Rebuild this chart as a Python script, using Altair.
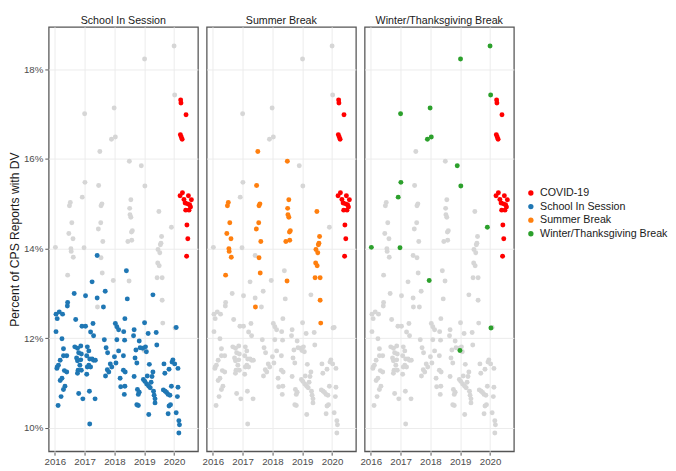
import altair as alt
import pandas as pd

# ---- data (x = fractional year, y = percent) ----
school_x = [2016.04,2016.04,2016.08,2016.11,2016.08,2016.15,2016.26,2016.24,2016.43,2016.42,2016.29,2016.29,2016.40,2016.18,2016.12,2016.07,2016.32,2016.40,2016.24,2016.18,2016.34,2016.29,2016.21,
            2016.65,2016.70,2016.91,2016.67,2016.76,2016.87,2016.80,2016.89,2016.73,2016.76,2016.87,2016.84,2016.78,2016.76,2016.89,2016.80,2016.94,
            2017.03,2017.03,2017.09,2017.14,2017.07,2017.17,2017.14,2017.09,2017.28,2017.20,2017.30,2017.25,2017.30,2017.36,2017.20,2017.07,2017.16,2017.17,2017.35,2017.25,2017.42,2017.42,
            2017.69,2017.63,2017.66,2017.72,2017.77,2017.86,2017.91,2017.76,2017.81,2017.70,
            2018.03,2018.08,2018.14,2018.35,2018.31,2018.08,2018.34,2018.14,2018.30,2018.19,2018.21,2018.35,2018.33,2018.30,2018.36,2018.43,2018.40,2018.00,2018.05,
            2018.66,2018.64,2018.83,2018.72,2018.86,2018.69,2018.75,2018.66,2018.77,2018.83,2018.80,2018.75,2018.80,
            2019.04,2019.01,2019.13,2019.40,2019.42,2018.95,2019.07,2019.17,2019.29,2019.26,2018.97,2019.02,2019.08,2019.15,2019.20,2019.10,2019.23,2019.31,2019.33,2019.36,2019.36,2019.15,2019.29,
            2019.66,2019.83,2019.69,2019.64,2019.70,2019.75,2019.80,2019.86,2019.96,2019.93,2020.02,2019.91,2019.83,2019.88,2019.80,
            2020.07,2020.13,2020.11,2020.07,2020.16,2020.18,2020.16,2020.13]
school_y = [12.54,12.15,11.36,10.50,12.44,12.59,12.54,11.99,12.80,12.72,11.77,11.61,11.61,11.51,11.40,11.33,11.28,11.25,11.11,11.06,10.93,10.86,10.70,
            13.00,12.42,12.27,11.81,11.78,11.83,11.68,11.65,11.56,11.50,11.52,11.40,11.29,11.22,11.29,10.77,10.65,
            12.27,12.95,11.81,11.72,11.61,11.54,11.40,11.36,12.33,12.14,12.06,11.54,11.51,11.51,11.36,11.20,10.82,10.09,10.65,13.26,12.90,13.85,
            13.05,12.70,11.97,11.79,11.68,11.43,11.36,11.30,11.25,11.16,
            12.33,12.26,12.19,12.44,12.15,11.97,11.96,11.72,11.61,11.11,10.92,10.93,10.75,11.29,11.25,12.88,13.51,11.59,11.45,
            12.19,12.06,11.94,11.74,11.79,11.56,11.45,11.15,10.86,10.80,10.75,10.52,10.50,
            11.81,12.35,12.11,12.13,11.85,11.78,11.70,11.42,11.25,11.15,11.08,11.04,10.98,10.93,10.90,11.16,11.02,10.82,10.73,10.65,10.56,10.30,12.97,
            11.43,11.31,11.22,10.85,10.82,10.79,10.75,10.73,11.52,11.47,11.43,10.93,10.49,10.52,10.32,
            12.24,10.91,10.70,10.34,10.16,10.07,9.89,11.33]

summer_x = [2016.43,2016.47,2016.49,2016.52,2016.54,2016.55,2016.57,2016.61,2016.62,
            2017.43,2017.46,2017.47,2017.51,2017.54,2017.55,2017.55,2017.58,2017.59,2017.61,
            2018.49,2018.50,2018.51,2018.55,2018.52,2018.55,2018.60,2018.57,2018.45,2018.58,
            2019.49,2019.58,2019.56,2019.54,2019.46,2019.52,2019.45,2019.50,2019.43,2019.60,2019.60,2019.62]
summer_y = [13.41,14.34,14.96,15.03,14.00,13.94,14.58,14.22,13.81,
            12.70,14.44,15.41,16.17,14.58,14.96,13.80,15.00,13.46,14.16,
            13.28,15.95,14.90,15.09,14.76,14.70,14.40,14.37,14.16,14.19,
            14.83,14.27,14.12,14.09,13.98,13.91,13.68,13.62,13.35,13.35,12.85,12.34]

winter_x = [2016.02,2016.92,2016.98,2017.00,2017.01,2017.90,2017.96,2017.99,2018.03,2018.90,2018.99,2019.01,2019.02,2019.91,2020.00,2020.02,2020.03]
winter_y = [14.03,15.15,14.02,17.01,15.48,16.44,13.29,17.14,16.49,15.85,11.73,18.23,15.40,14.48,18.52,17.43,12.23]

covid_x = [2020.22,2020.23,2020.40,2020.21,2020.24,2020.27,2020.28,2020.20,2020.48,2020.58,2020.37,2020.45,2020.52,2020.55,2020.39,2020.50,2020.43,2020.46,2020.42,2020.33]
covid_y = [17.32,17.25,16.99,16.54,16.49,16.44,15.25,15.18,15.18,15.09,15.02,15.00,14.98,14.93,14.86,14.86,14.53,14.22,13.83,15.10]

panels = ["School In Session", "Summer Break", "Winter/Thanksgiving Break"]
legend_cats = ["COVID-19", "School In Session", "Summer Break", "Winter/Thanksgiving Break"]
colors = ["#FF0000", "#1F77B4", "#FF7F0E", "#2CA02C"]

series = [("School In Session", school_x, school_y),
          ("Summer Break", summer_x, summer_y),
          ("Winter/Thanksgiving Break", winter_x, winter_y),
          ("COVID-19", covid_x, covid_y)]

rows = []
for p in panels:
    for cat, xs, ys in series:
        for x, y in zip(xs, ys):
            if cat == "COVID-19":
                grp, z = cat, 2
            elif cat == p:
                grp, z = cat, 1
            else:
                grp, z = "Other", 0
            rows.append({"panel": p, "year": x, "pct": y / 100, "grp": grp, "z": z})
df = pd.DataFrame(rows).sort_values("z", kind="stable")

font = "Liberation Sans"

chart = alt.Chart(df).mark_circle(size=26, opacity=1).encode(
    x=alt.X("year:Q", title=None,
            scale=alt.Scale(domain=[2015.795, 2020.80], nice=False, zero=False),
            axis=alt.Axis(values=[2016, 2017, 2018, 2019, 2020], format="d")),
    y=alt.Y("pct:Q", title="Percent of CPS Reports with DV",
            scale=alt.Scale(domain=[0.0948, 0.1895], nice=False, zero=False),
            axis=alt.Axis(values=[0.10, 0.12, 0.14, 0.16, 0.18], format=".0%", titlePadding=2)),
    color=alt.Color("grp:N",
                    scale=alt.Scale(domain=legend_cats + ["Other"], range=colors + ["#D6D6D6"]),
                    legend=alt.Legend(values=legend_cats, title=None, orient="none",
                                      legendX=492, legendY=166,
                                      symbolType="circle", symbolSize=30,
                                      labelFontSize=11, labelColor="#1A1A1A", labelFont=font)),
    order=alt.Order("z:Q"),
).properties(width=154, height=438).facet(
    column=alt.Column("panel:N", title=None, sort=panels,
                      header=alt.Header(labelFontSize=11, labelColor="#1A1A1A", labelFont=font,
                                        labelPadding=0))
).configure_facet(spacing=7).configure_view(
    stroke="#555555", strokeWidth=1.3
).configure_axis(
    gridColor="#EBEBEB", gridWidth=1, domain=False,
    tickColor="#555555", tickSize=3,
    labelFont=font, labelFontSize=10, labelColor="#4D4D4D", labelPadding=2,
    titleFont=font, titleFontSize=12.5, titleFontWeight="normal", titleColor="#1A1A1A",
).properties(padding={"left": 0, "top": 0, "right": 0, "bottom": 0})

chart.save("out.html", embed_options={"renderer": "svg", "actions": False})
